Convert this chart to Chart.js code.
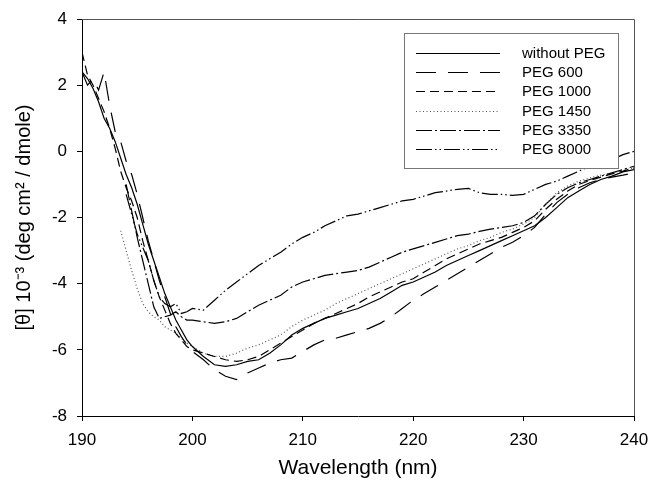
<!DOCTYPE html>
<html>
<head>
<meta charset="utf-8">
<script src="https://cdn.jsdelivr.net/npm/chart.js@4"></script>
<style>
  body { margin: 0; background: #fff; }
  canvas { display: block; }
</style>
</head>
<body>
<canvas id="cd-chart" width="650" height="482"></canvas>
<script>
// Wavelength (nm): half steps over the steep part, then 1 nm steps
const wavelengths = [190, 190.5, 191, 191.5, 192, 192.5, 193, 193.5, 194, 194.5, 195, 195.5, 196, 196.5, 197, 197.5, 198, 198.5, 199, 199.5, 200,
    201, 202, 203, 204, 205, 206, 207, 208, 209, 210, 211, 212, 213, 214, 215, 216, 217, 218, 219, 220,
    221, 222, 223, 224, 225, 226, 227, 228, 229, 230, 231, 232, 233, 234, 235, 236, 237, 238, 239, 240];

// Series values, [θ] 10^-3 (deg cm2 / dmole)
const withoutPEG = [2.4, 2.2, 1.9, 1.5, 1.0, 0.7, 0.3, -0.2, -0.7, -1.1, -1.6, -2.2, -2.8, -3.3, -3.8, -4.3, -4.7, -5.1, -5.4, -5.7, -5.9,
    -6.2, -6.45, -6.5, -6.45, -6.35, -6.3, -6.1, -5.85, -5.55, -5.35, -5.2, -5.05, -4.95, -4.85, -4.75, -4.6, -4.45, -4.25, -4.05, -3.95,
    -3.8, -3.65, -3.45, -3.3, -3.15, -3.0, -2.85, -2.7, -2.55, -2.4, -2.25, -2.0, -1.7, -1.4, -1.2, -1.0, -0.85, -0.75, -0.62, -0.55];
const peg600 = [2.4, 2.0, 2.2, 1.85, 2.4, 1.4, 0.6, 0.3, -0.3, -0.7, -1.3, -2.0, -2.7, -3.3, -3.9, -4.4, -4.9, -5.3, -5.6, -5.85, -6.05,
    -6.3, -6.6, -6.8, -6.9, -6.7, -6.55, -6.4, -6.3, -6.25, -6.05, -5.85, -5.7, -5.65, -5.55, -5.45, -5.35, -5.2, -5.0, -4.75, -4.5,
    -4.3, -4.1, -3.9, -3.7, -3.5, -3.3, -3.1, -2.9, -2.75, -2.55, -2.3, -1.9, -1.55, -1.3, -1.1, -0.95, -0.85, -0.78, -0.72, -0.65];
const peg1000 = [3.0, 2.3, 2.0, 1.6, 1.2, 0.7, 0.1, -0.6, -1.1, -1.5, -2.0, -2.7, -3.3, -3.9, -4.4, -4.8, -5.2, -5.5, -5.7, -5.9, -6.0,
    -6.1, -6.2, -6.3, -6.35, -6.3, -6.2, -6.0, -5.8, -5.6, -5.4, -5.2, -5.05, -4.9, -4.75, -4.6, -4.4, -4.25, -4.1, -3.95, -3.85,
    -3.65, -3.45, -3.25, -3.1, -2.95, -2.8, -2.7, -2.6, -2.45, -2.3, -2.1, -1.75, -1.45, -1.2, -1.0, -0.88, -0.78, -0.68, -0.6, -0.5];
const peg1450 = [null, null, null, null, null, null, null, -2.4, -3.0, -3.6, -4.15, -4.6, -4.85, -5.0, -5.1, -5.3, -5.4, -5.5, -5.65, -5.8, -5.9,
    -6.1, -6.2, -6.2, -6.1, -5.95, -5.85, -5.7, -5.55, -5.3, -5.1, -4.95, -4.8, -4.6, -4.45, -4.3, -4.15, -4.0, -3.85, -3.7, -3.55,
    -3.4, -3.25, -3.1, -2.95, -2.85, -2.7, -2.6, -2.45, -2.35, -2.2, -2.0, -1.6, -1.25, -1.05, -0.9, -0.8, -0.72, -0.65, -0.58, -0.5];
const peg3350 = [null, null, null, null, null, null, null, null, -1.0, -1.8, -2.6, -3.3, -4.0, -4.7, -5.05, -5.0, -4.95, -4.85, -5.0, -5.1, -5.1,
    -5.15, -5.2, -5.15, -5.05, -4.85, -4.65, -4.5, -4.35, -4.1, -3.95, -3.85, -3.75, -3.7, -3.65, -3.6, -3.5, -3.35, -3.2, -3.05, -2.95,
    -2.85, -2.75, -2.65, -2.55, -2.5, -2.42, -2.35, -2.3, -2.25, -2.15, -1.95, -1.6, -1.3, -1.1, -0.95, -0.85, -0.75, -0.65, -0.55, -0.45];
const peg8000 = [null, null, null, null, null, null, null, null, -1.3, -1.9, -2.5, -2.9, -3.3, -3.9, -4.4, -4.6, -4.7, -4.6, -4.9, -4.85, -4.75,
    -4.8, -4.5, -4.2, -3.95, -3.7, -3.45, -3.25, -3.05, -2.8, -2.6, -2.45, -2.25, -2.1, -1.95, -1.9, -1.8, -1.7, -1.6, -1.5, -1.45,
    -1.35, -1.25, -1.2, -1.15, -1.12, -1.25, -1.3, -1.3, -1.33, -1.3, -1.15, -1.0, -0.9, -0.75, -0.6, -0.45, -0.35, -0.25, -0.1, 0.0];

const seriesLabels = ['without PEG', 'PEG 600', 'PEG 1000', 'PEG 1450', 'PEG 3350', 'PEG 8000'];
const seriesValues = [withoutPEG, peg600, peg1000, peg1450, peg3350, peg8000];
const xTicks = [190, 200, 210, 220, 230, 240];
const yTicks = [-8, -6, -4, -2, 0, 2, 4];

// line style per series
const dashes = [[], [20, 12], [9, 5], [1, 2.5], [16, 3, 2, 3], [16, 3, 1.5, 3, 1.5, 3]];
const colors = ['#000', '#000', '#000', '#555', '#000', '#000'];

Chart.defaults.font.family = "'Liberation Sans', Arial, sans-serif";
Chart.defaults.color = '#000';

// box around the plot area
const frame = {
    id: 'frame',
    afterDraw(chart) {
        const { ctx, chartArea: a } = chart;
        ctx.save();
        ctx.strokeStyle = '#555';
        ctx.lineWidth = 1;
        ctx.beginPath();
        ctx.moveTo(a.left, a.top + 0.5);
        ctx.lineTo(a.right + 0.5, a.top + 0.5);
        ctx.lineTo(a.right + 0.5, a.bottom);
        ctx.stroke();
        ctx.restore();
    }
};

// legend box inside the plot
const boxLegend = {
    id: 'boxLegend',
    afterDatasetsDraw(chart) {
        const ctx = chart.ctx;
        ctx.save();
        ctx.fillStyle = '#fff';
        ctx.fillRect(404, 33, 214, 135);
        ctx.strokeStyle = '#777';
        ctx.lineWidth = 1;
        ctx.strokeRect(404.5, 33.5, 214, 135);
        ctx.font = "15px 'Liberation Sans', Arial, sans-serif";
        ctx.textBaseline = 'middle';
        chart.data.datasets.forEach((ds, i) => {
            const y = Math.round(53 + i * 19.2) + 0.5;
            ctx.strokeStyle = ds.borderColor;
            ctx.setLineDash(ds.borderDash);
            ctx.beginPath();
            ctx.moveTo(416, y);
            ctx.lineTo(500, y);
            ctx.stroke();
            ctx.setLineDash([]);
            ctx.fillStyle = '#000';
            ctx.fillText(ds.label, 522, y);
        });
        ctx.restore();
    }
};

new Chart(document.querySelector('#cd-chart').getContext('2d'), {
    type: 'line',
    data: {
        datasets: seriesLabels.map((label, i) => ({
            label: label,
            data: wavelengths.map((w, j) => ({ x: w, y: seriesValues[i][j] })),
            borderColor: colors[i],
            borderDash: dashes[i],
            borderWidth: 1.2,
            pointRadius: 0,
            tension: 0,
            fill: false
        }))
    },
    options: {
        responsive: false,
        animation: false,
        layout: { padding: { top: 19, right: 16, left: 0, bottom: 0 } },
        plugins: { legend: { display: false }, tooltip: { enabled: false } },
        scales: {
            x: {
                type: 'linear',
                min: 190,
                max: 240,
                afterBuildTicks: s => { s.ticks = xTicks.map(v => ({ value: v })); },
                ticks: { font: { size: 17 }, padding: 9, maxRotation: 0 },
                grid: { drawOnChartArea: false, tickLength: 5, color: '#000' },
                border: { color: '#000' },
                title: { display: true, text: 'Wavelength (nm)', font: { size: 21 }, padding: { top: 0, bottom: 1 } },
                afterFit: s => { s.height = 66; s.paddingLeft = 0; s.paddingRight = 0; }
            },
            y: {
                min: -8,
                max: 4,
                afterBuildTicks: s => { s.ticks = yTicks.map(v => ({ value: v })); },
                ticks: { font: { size: 17 }, padding: 10 },
                grid: { drawOnChartArea: false, tickLength: 5, color: '#000' },
                border: { color: '#000' },
                title: { display: true, text: '[θ] 10⁻³ (deg cm² / dmole)', font: { size: 20 }, padding: { top: 12, bottom: 0 } },
                afterFit: s => { s.width = 82; s.paddingTop = 0; s.paddingBottom = 0; }
            }
        }
    },
    plugins: [frame, boxLegend]
});
</script>
</body>
</html>
